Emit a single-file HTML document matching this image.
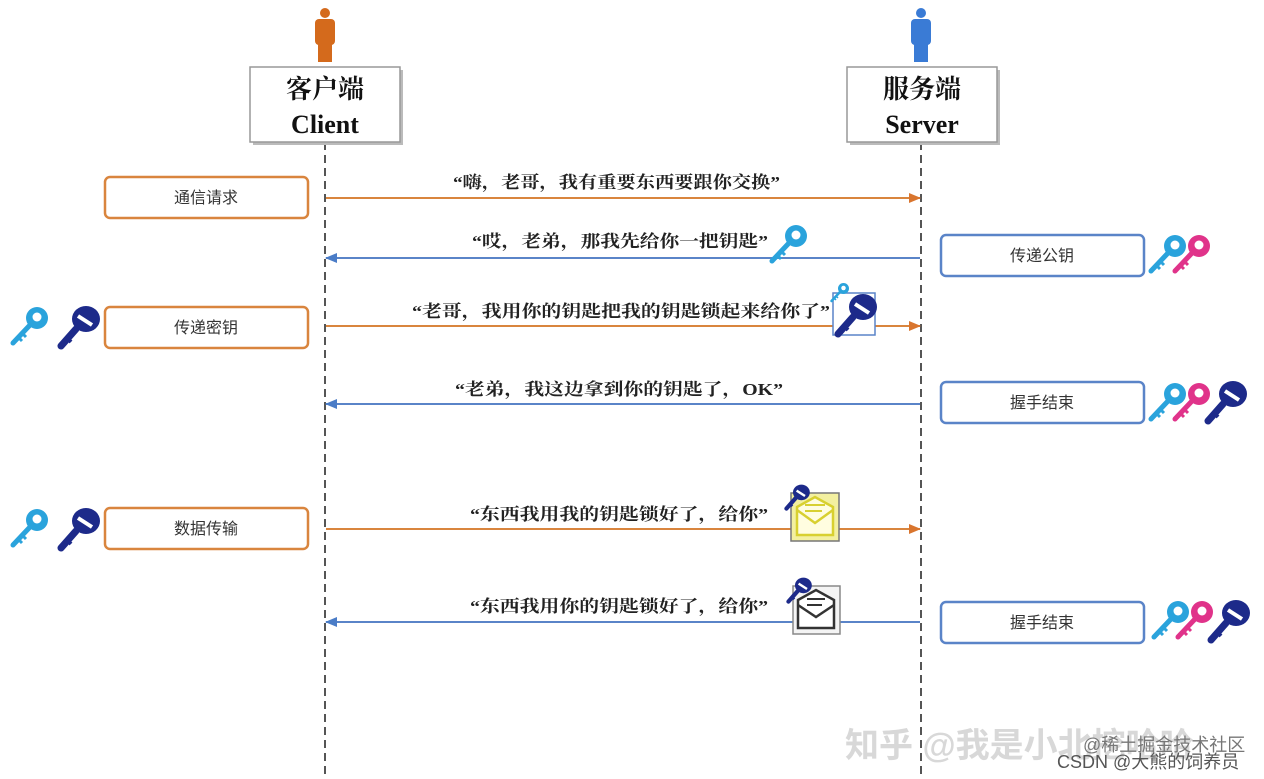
<!DOCTYPE html>
<html><head><meta charset="utf-8"><style>
html,body{margin:0;padding:0;background:#fff;}
svg{display:block;}
.lbl{font-family:"Liberation Serif","Noto Serif CJK SC","Noto Sans CJK SC",serif;font-weight:bold;font-size:17px;fill:#222;}
.box{font-family:"Liberation Sans","Noto Sans CJK SC",sans-serif;font-size:16px;fill:#333;}
.hd{font-family:"Liberation Serif","Noto Serif CJK SC",serif;font-weight:bold;font-size:26px;fill:#111;}
</style></head><body>
<svg width="1264" height="779" viewBox="0 0 1264 779" xmlns="http://www.w3.org/2000/svg">
<defs>
<g id="kl"><circle cx="27" cy="12" r="11" fill="currentColor"/><circle cx="27" cy="11" r="4.5" fill="#fff"/><path d="M20 19 L3 37" stroke="currentColor" stroke-width="5" stroke-linecap="round"/><path d="M8 31 L12 35 M12 27 L16 31" stroke="currentColor" stroke-width="3"/></g>
<g id="kd"><ellipse cx="29" cy="14" rx="14" ry="13" fill="#1d2a8a"/><path d="M21 11 L35 20" stroke="#fff" stroke-width="4"/><path d="M19 24 L4 41" stroke="#1d2a8a" stroke-width="7" stroke-linecap="round"/><path d="M10 33 L14 37" stroke="#1d2a8a" stroke-width="4"/></g>
<marker id="ao" markerWidth="12" markerHeight="10" refX="11" refY="5" orient="auto" markerUnits="userSpaceOnUse"><path d="M0 0 L12 5 L0 10 Z" fill="#d9752e"/></marker>
<marker id="ab" markerWidth="12" markerHeight="10" refX="11" refY="5" orient="auto" markerUnits="userSpaceOnUse"><path d="M0 0 L12 5 L0 10 Z" fill="#4a7cc7"/></marker>
</defs>
<g fill="#d46a1c"><circle cx="325" cy="13" r="5"/><rect x="315" y="19" width="20" height="26" rx="4"/><rect x="318" y="40" width="14" height="22"/></g>
<g fill="#3a7bd5"><circle cx="921" cy="13" r="5"/><rect x="911" y="19" width="20" height="26" rx="4"/><rect x="914" y="40" width="14" height="22"/></g>
<line x1="325" y1="142" x2="325" y2="779" stroke="#555" stroke-width="2" stroke-dasharray="8,5"/>
<line x1="921" y1="142" x2="921" y2="779" stroke="#555" stroke-width="2" stroke-dasharray="8,5"/>
<rect x="253" y="70" width="150" height="75" fill="#bbb"/>
<rect x="250" y="67" width="150" height="75" fill="#fff" stroke="#999" stroke-width="1.5"/>
<text class="hd" x="325" y="98" text-anchor="middle">客户端</text>
<text class="hd" x="325" y="133" text-anchor="middle">Client</text>
<rect x="850" y="70" width="150" height="75" fill="#bbb"/>
<rect x="847" y="67" width="150" height="75" fill="#fff" stroke="#999" stroke-width="1.5"/>
<text class="hd" x="922" y="98" text-anchor="middle">服务端</text>
<text class="hd" x="922" y="133" text-anchor="middle">Server</text>
<g fill="#fff" stroke="#d9853e" stroke-width="2.5">
<rect x="105" y="177" width="203" height="41" rx="5"/>
<rect x="105" y="307" width="203" height="41" rx="5"/>
<rect x="105" y="508" width="203" height="41" rx="5"/>
</g>
<text class="box" x="206" y="203" text-anchor="middle">通信请求</text>
<text class="box" x="206" y="333" text-anchor="middle">传递密钥</text>
<text class="box" x="206" y="534" text-anchor="middle">数据传输</text>
<g fill="#fff" stroke="#5a84c8" stroke-width="2.5">
<rect x="941" y="235" width="203" height="41" rx="5"/>
<rect x="941" y="382" width="203" height="41" rx="5"/>
<rect x="941" y="602" width="203" height="41" rx="5"/>
</g>
<text class="box" x="1042" y="261" text-anchor="middle">传递公钥</text>
<text class="box" x="1042" y="408" text-anchor="middle">握手结束</text>
<text class="box" x="1042" y="628" text-anchor="middle">握手结束</text>
<line x1="326" y1="198" x2="920" y2="198" stroke="#d9853e" stroke-width="2" marker-end="url(#ao)"/>
<line x1="920" y1="258" x2="326" y2="258" stroke="#5a84c8" stroke-width="2" marker-end="url(#ab)"/>
<line x1="326" y1="326" x2="920" y2="326" stroke="#d9853e" stroke-width="2" marker-end="url(#ao)"/>
<line x1="920" y1="404" x2="326" y2="404" stroke="#5a84c8" stroke-width="2" marker-end="url(#ab)"/>
<line x1="326" y1="529" x2="920" y2="529" stroke="#d9853e" stroke-width="2" marker-end="url(#ao)"/>
<line x1="920" y1="622" x2="326" y2="622" stroke="#5a84c8" stroke-width="2" marker-end="url(#ab)"/>
<text class="lbl" x="453" y="188" textLength="327" lengthAdjust="spacingAndGlyphs">“嗨，老哥，我有重要东西要跟你交换”</text>
<text class="lbl" x="472" y="247" textLength="296" lengthAdjust="spacingAndGlyphs">“哎，老弟，那我先给你一把钥匙”</text>
<text class="lbl" x="412" y="317" textLength="418" lengthAdjust="spacingAndGlyphs">“老哥，我用你的钥匙把我的钥匙锁起来给你了”</text>
<text class="lbl" x="455" y="395" textLength="328" lengthAdjust="spacingAndGlyphs">“老弟，我这边拿到你的钥匙了，OK”</text>
<text class="lbl" x="470" y="520" textLength="298" lengthAdjust="spacingAndGlyphs">“东西我用我的钥匙锁好了，给你”</text>
<text class="lbl" x="470" y="612" textLength="298" lengthAdjust="spacingAndGlyphs">“东西我用你的钥匙锁好了，给你”</text>
<use href="#kl" x="769" y="224" style="color:#2aa3dc"/>
<rect x="833" y="293" width="42" height="42" fill="#fff" stroke="#5a84c8" stroke-width="1.5"/>
<use href="#kl" x="828" y="282" style="color:#2aa3dc" transform="translate(832 283) scale(.5) translate(-832 -283)"/>
<use href="#kd" x="834" y="293"/>
<rect x="791" y="493" width="48" height="48" fill="#f3f0a0" stroke="#777" stroke-width="1.5"/>
<path d="M797 507 L815 497 L833 507 L833 535 L797 535 Z" fill="#fffde0" stroke="#d8d030" stroke-width="2.5"/>
<path d="M797 510 L815 523 L833 510" fill="none" stroke="#d8d030" stroke-width="2.5"/>
<path d="M805 505 H825 M805 511 H822" stroke="#d8d030" stroke-width="2"/>
<use href="#kd" x="784" y="484" transform="translate(784 484) scale(.6) translate(-784 -484)"/>
<rect x="793" y="586" width="47" height="48" fill="#f4f4f4" stroke="#888" stroke-width="1.5"/>
<path d="M798 600 L816 590 L834 600 L834 628 L798 628 Z" fill="#fff" stroke="#333" stroke-width="2.5"/>
<path d="M798 605 L816 617 L834 605" fill="none" stroke="#333" stroke-width="2.5"/>
<path d="M807 599 H825 M807 605 H822" stroke="#333" stroke-width="2"/>
<use href="#kd" x="786" y="577" transform="translate(786 577) scale(.6) translate(-786 -577)"/>
<use href="#kl" x="10" y="306" style="color:#2aa3dc"/>
<use href="#kd" x="57" y="305"/>
<use href="#kl" x="10" y="508" style="color:#2aa3dc"/>
<use href="#kd" x="57" y="507"/>
<use href="#kl" x="1148" y="234" style="color:#2aa3dc"/>
<use href="#kl" x="1172" y="234" style="color:#e0338a"/>
<use href="#kl" x="1148" y="382" style="color:#2aa3dc"/>
<use href="#kl" x="1172" y="382" style="color:#e0338a"/>
<use href="#kd" x="1204" y="380"/>
<use href="#kl" x="1151" y="600" style="color:#2aa3dc"/>
<use href="#kl" x="1175" y="600" style="color:#e0338a"/>
<use href="#kd" x="1207" y="599"/>
<text x="845" y="757" font-family="Liberation Sans,'Noto Sans CJK SC',sans-serif" font-size="34" fill="#d8d8d8" font-weight="bold">知乎 @我是小北挖哈哈</text>
<text x="1083" y="751" font-family="Liberation Sans,'Noto Sans CJK SC',sans-serif" font-size="18" fill="#777">@稀土掘金技术社区</text>
<text x="1057" y="768" font-family="Liberation Sans,'Noto Sans CJK SC',sans-serif" font-size="18" fill="#555">CSDN @大熊的饲养员</text>
</svg>
</body></html>
